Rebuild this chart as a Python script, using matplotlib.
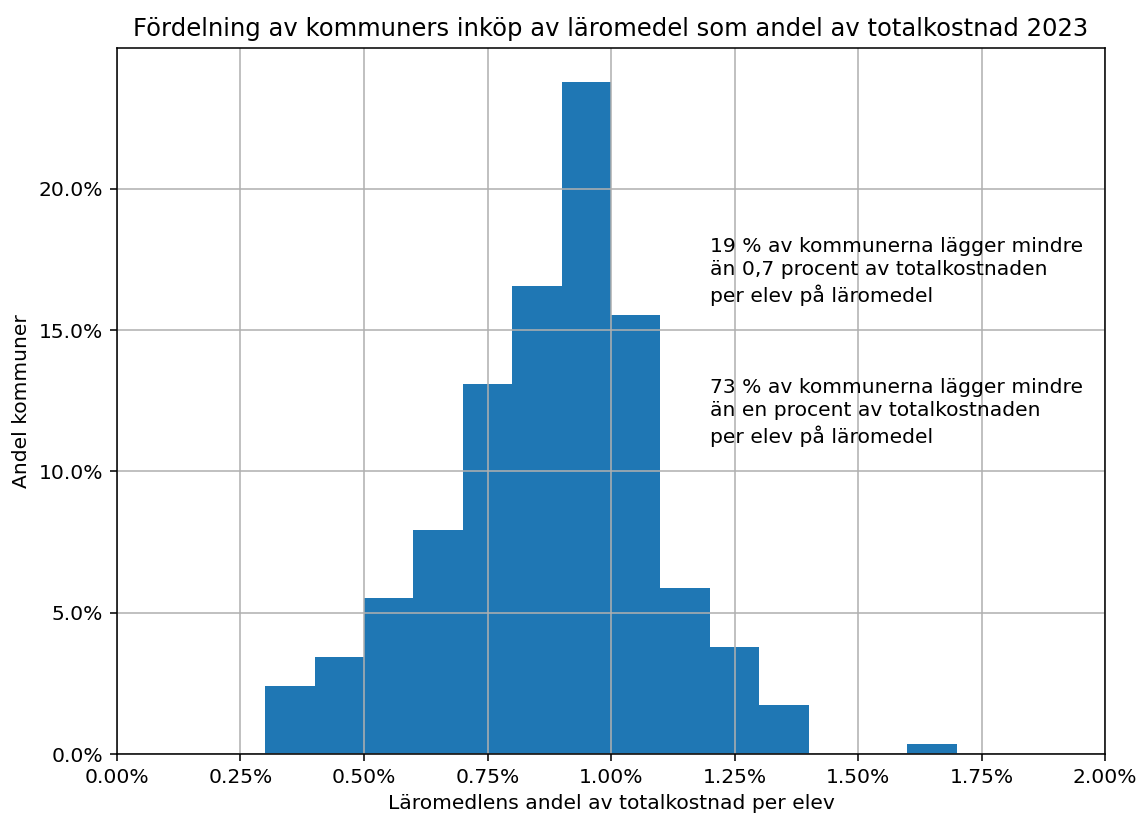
"""Histogram: kommuners inköp av läromedel som andel av totalkostnad 2023."""
import matplotlib
matplotlib.use("Agg")
import matplotlib.pyplot as plt
from matplotlib.ticker import PercentFormatter, MultipleLocator

# bin left edges (percent of total cost per pupil), bin width 0.1 percentage points
bin_left = [0.3, 0.4, 0.5, 0.6, 0.7, 0.8, 0.9, 1.0, 1.1, 1.2, 1.3, 1.4, 1.5, 1.6]
# share of municipalities in each bin (percent)
share = [2.41, 3.45, 5.52, 7.93, 13.10, 16.55, 23.79, 15.52, 5.86, 3.79, 1.72, 0.0, 0.0, 0.34]
bin_width = 0.1

note_1 = "19 % av kommunerna lägger mindre\nän 0,7 procent av totalkostnaden\nper elev på läromedel"
note_2 = "73 % av kommunerna lägger mindre\nän en procent av totalkostnaden\nper elev på läromedel"

plt.rcParams.update({"font.size": 10.4, "axes.titlesize": 12.5})

fig = plt.figure(figsize=(1139 / 140, 814 / 140), dpi=140)
ax = fig.add_axes([0.1027, 0.0737, 0.8675, 0.8673])

ax.bar(bin_left, share, width=bin_width, align="edge", color="#1f77b4")
ax.set_xlim(0, 2.0)
ax.xaxis.set_major_locator(MultipleLocator(0.25))
ax.yaxis.set_major_locator(MultipleLocator(5))
ax.xaxis.set_major_formatter(PercentFormatter(100, decimals=2))
ax.yaxis.set_major_formatter(PercentFormatter(100, decimals=1))
ax.grid(True)

ax.text(1.2, 16, note_1, linespacing=1.3)
ax.text(1.2, 11, note_2, linespacing=1.3)

ax.set_title("Fördelning av kommuners inköp av läromedel som andel av totalkostnad 2023")
ax.set_xlabel("Läromedlens andel av totalkostnad per elev")
ax.set_ylabel("Andel kommuner")

fig.savefig("out.png", dpi=140)
